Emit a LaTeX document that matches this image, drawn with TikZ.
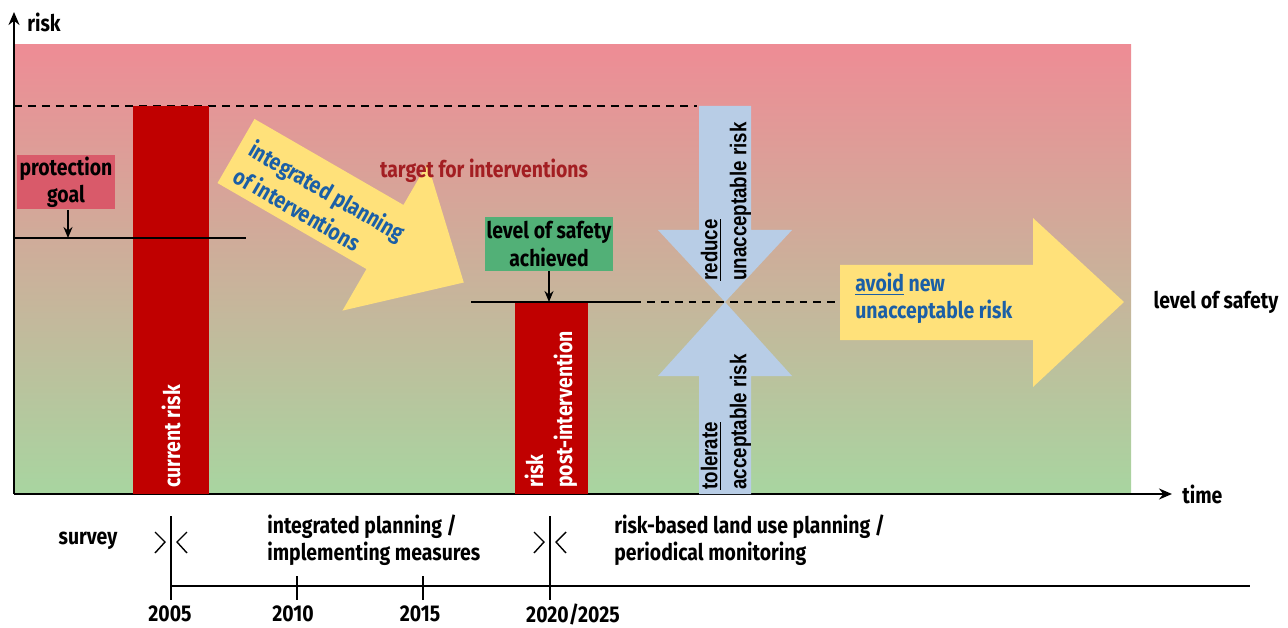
\documentclass[tikz,border=0pt]{standalone}
\usepackage{fontspec}
\setmainfont{Fira Sans}[FakeStretch=0.85]
\newfontfamily\narrowfont{Liberation Sans}[FakeStretch=0.82]
\usepackage{xcolor}
\usepackage{tikz}
\usetikzlibrary{arrows.meta,calc}
\definecolor{riskred}{HTML}{C00000}
\definecolor{goalred}{HTML}{D95A6A}
\definecolor{safegreen}{HTML}{52B077}
\definecolor{planyellow}{HTML}{FFE17A}
\definecolor{actblue}{HTML}{B8CDE6}
\definecolor{textblue}{HTML}{1B5FA6}
\definecolor{targetred}{HTML}{A31E22}
\definecolor{zonehigh}{HTML}{EE8C95}
\definecolor{zonemid}{HTML}{C9B69A}
\definecolor{zonelow}{HTML}{A8D5A0}
\tikzset{
  lbl/.style={font=\bfseries\fontsize{13}{15.5}\selectfont,inner sep=0pt,align=center},
  vlbl/.style={font=\narrowfont\bfseries\fontsize{13}{16.5}\selectfont,inner sep=0pt,
    align=left,rotate=90,anchor=west},
  barlbl/.style={lbl,text=white,align=left,rotate=90,anchor=west,font=\bfseries\fontsize{13}{16.5}\selectfont},
  goalbox/.style={lbl,fill=goalred,minimum width=1.96cm,minimum height=1.1cm},
  safebox/.style={lbl,fill=safegreen,minimum width=2.56cm,minimum height=1.08cm},
  axis/.style={line width=1.6pt,-{Stealth[length=2.6mm,width=2.2mm]}},
  levelline/.style={line width=1.6pt},
  dashline/.style={line width=1.1pt,dash pattern=on 4.5pt off 3.4pt},
  pointer/.style={line width=0.9pt,-{Stealth[length=2.2mm,width=1.8mm]}},
  timeline/.style={line width=1.5pt},
  tick/.style={line width=1.1pt},
  breakmark/.style={line width=0.8pt}
}
\begin{document}
\begin{tikzpicture}[x=0.02cm,y=-0.02cm]
\useasboundingbox (0,0) rectangle (1288,628);

% risk zones, red (high) to green (low)
\shade[top color=zonehigh,middle color=zonemid,bottom color=zonelow] (14,45) rectangle (1131,494);

% axes
\coordinate (origin) at (14,494);
\coordinate (ytip) at (14,12);
\coordinate (xtip) at (1172,494);
\draw[axis] (origin) -- (ytip);
\draw[axis] (origin) -- (xtip);
\node[lbl,anchor=west] (risklbl) at (27,22) {risk};
\node[lbl,anchor=west] (timelbl) at (1182,494) {time};

% current risk level
\draw[dashline] (14,106) -- (697,106);
\fill[riskred] (133,106) rectangle (209,494);
\node[barlbl] (current) at (171,488) {current risk};

% protection goal
\node[goalbox] (goal) at (66,182) {protection\\goal};
\coordinate (goalline) at (68,238);
\draw[levelline] (14,238) -- (246,238);
\draw[pointer] (goal.south -| goalline) -- (goalline);

% integrated planning arrow
\begin{scope}[shift={(236,151)},rotate=-30]
  \fill[planyellow] (0,-37) -- (172,-37) -- (172,-85) -- (263,0) -- (172,85) -- (172,37) -- (0,37) -- cycle;
  \node[lbl,text=textblue,align=left,rotate=-30,font=\bfseries\fontsize{13}{17.5}\selectfont] (planning) at (99,4) {integrated planning\\of interventions};
\end{scope}
\node[lbl,text=targetred] (target) at (484,171) {target for interventions};

% level of safety reached
\node[safebox] (achieved) at (549,244) {level of safety\\achieved};
\coordinate (safeline) at (549,302);
\draw[levelline] (471,302) -- (633,302);
\draw[dashline] (633,302) -- (840,302);
\draw[pointer] (achieved.south) -- (safeline);
\fill[riskred] (515,303) rectangle (588,494);
\node[barlbl] (post) at (551,488) {risk\\post-intervention};

% reduce / tolerate arrows
\fill[actblue] (699,106) -- (751,106) -- (751,230) -- (792,230) -- (725,302) -- (658,230) -- (699,230) -- cycle;
\fill[actblue] (699,494) -- (751,494) -- (751,376) -- (792,376) -- (725,302) -- (658,376) -- (699,376) -- cycle;
\node[vlbl] (reduce) at (726,281) {\underline{reduce}\\unacceptable risk};
\node[vlbl] (tolerate) at (726,490) {\underline{tolerate}\\acceptable risk};

% avoid new risk
\fill[planyellow] (840,265) -- (1033,265) -- (1033,218) -- (1124,302) -- (1033,387) -- (1033,340) -- (840,340) -- cycle;
\node[lbl,text=textblue,align=left,anchor=west] (avoid) at (855,298) {\underline{avoid} new\\unacceptable risk};
\node[lbl] (safety) at (1216,302) {level of safety};

% time line
\coordinate (t2005) at (171,586);
\coordinate (t2010) at (297,586);
\coordinate (t2015) at (423,586);
\coordinate (t2020) at (550,586);
\coordinate (tend) at (1250,586);
\draw[timeline] (t2005) -- (tend);
\draw[tick] (171,516) -- (171,600);
\draw[tick] (550,516) -- (550,600);
\draw[tick] (297,576) -- (297,600);
\draw[tick] (423,576) -- (423,600);
\draw[breakmark] (155,532) -- (165,542) -- (155,553);
\draw[breakmark] (187,532) -- (177,542) -- (187,553);
\draw[breakmark] (534,532) -- (544,542) -- (534,553);
\draw[breakmark] (566,532) -- (556,542) -- (566,553);
\node[lbl] (y2005) at (170,614) {2005};
\node[lbl] (y2010) at (293,614) {2010};
\node[lbl] (y2015) at (420,614) {2015};
\node[lbl] (y2020) at (573,614) {2020/2025};
\node[lbl] (survey) at (88,541) {survey};
\node[lbl,align=left,anchor=west] (implement) at (267,540) {integrated planning /\\implementing measures};
\node[lbl,align=left,anchor=west] (monitor) at (614,540) {risk-based land use planning /\\periodical monitoring};
\end{tikzpicture}
\end{document}
